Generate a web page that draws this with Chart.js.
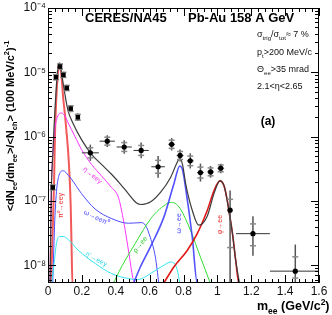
<!DOCTYPE html>
<html>
<head>
<meta charset="utf-8">
<script src="https://cdn.jsdelivr.net/npm/chart.js@4.4.1/dist/chart.umd.min.js"></script>
<style>
  html, body { margin: 0; padding: 0; background: #fff; }
  canvas { display: block; }
</style>
</head>
<body>
<canvas id="chart" width="332" height="315"></canvas>
<script>
// bottom of the log axis; curves that run out of the plot end on it
const FLOOR = 5.3e-9;

// measured e+e- pairs (stat. errors as low/high values, half bin width in mass)
const dataMass = [0.028, 0.047, 0.071, 0.091, 0.111, 0.134, 0.176, 0.25, 0.35, 0.45, 0.55, 0.65, 0.73, 0.78, 0.84, 0.90, 0.96, 1.02, 1.075, 1.21, 1.46];
const dataValue = [1.62e-7, 8.4e-6, 1.23e-5, 9.1e-6, 5.7e-6, 2.73e-6, 2.0e-6, 5.6e-7, 8.5e-7, 6.9e-7, 6.1e-7, 3.4e-7, 7.6e-7, 5.1e-7, 4.2e-7, 2.76e-7, 2.83e-7, 3.23e-7, 7.2e-8, 3.1e-8, 8.1e-9];
const dataLow = [1.45e-7, 7.5e-6, 1.1e-5, 8.2e-6, 5.1e-6, 2.4e-6, 1.75e-6, 4.2e-7, 6.9e-7, 5.4e-7, 4.6e-7, 2.3e-7, 6.1e-7, 4.1e-7, 3.2e-7, 2.0e-7, 2.3e-7, 2.7e-7, 1e-9, 1.4e-8, 1e-9];
const dataHigh = [1.8e-7, 9.4e-6, 1.38e-5, 1.02e-5, 6.4e-6, 3.1e-6, 2.3e-6, 7.5e-7, 1.05e-6, 8.8e-7, 8.1e-7, 5.0e-7, 9.5e-7, 6.3e-7, 5.5e-7, 3.8e-7, 3.5e-7, 3.8e-7, 1.45e-7, 5.8e-8, 2.1e-8];
const dataMassErr = [0, 0, 0, 0, 0, 0, 0, 0.05, 0.045, 0.045, 0.045, 0.04, 0.02, 0.02, 0.02, 0.02, 0.02, 0.02, 0.015, 0.1, 0.15];

// hadronic cocktail
const totalMass = [0.012, 0.02, 0.028, 0.035, 0.041, 0.05, 0.058, 0.066, 0.075, 0.085, 0.095, 0.105, 0.119, 0.148, 0.198, 0.257, 0.316, 0.375, 0.43, 0.474, 0.523, 0.55, 0.575, 0.604, 0.664, 0.723, 0.763, 0.778, 0.795, 0.812, 0.852, 0.89, 0.94, 0.98, 1.015, 1.04, 1.068, 1.09, 1.108, 1.13];
const totalValue = [FLOOR, 1.5e-7, 5e-7, 1.3e-6, 2.6e-6, 6.5e-6, 1.15e-5, 1.4e-5, 1.2e-5, 8e-6, 5.5e-6, 3.8e-6, 2.5e-6, 1.6e-6, 9e-7, 5.3e-7, 3.7e-7, 2.6e-7, 1.8e-7, 1.3e-7, 9.3e-8, 8.8e-8, 9.0e-8, 9.6e-8, 1.36e-7, 2.3e-7, 4.0e-7, 4.6e-7, 3.6e-7, 1.9e-7, 7.1e-8, 4.2e-8, 5.8e-8, 1.3e-7, 2.05e-7, 1.7e-7, 7.1e-8, 3e-8, 1.2e-8, FLOOR];

const pi0Mass = [0.018, 0.025, 0.031, 0.036, 0.041, 0.048, 0.056, 0.062, 0.067, 0.075, 0.082, 0.089, 0.1, 0.108, 0.123, 0.134, 0.14, 0.144, 0.68];
const pi0Value = [FLOOR, 2e-8, 7e-8, 2e-7, 1e-6, 3.5e-6, 8e-6, 1.22e-5, 1.3e-5, 1.1e-5, 7.5e-6, 4.2e-6, 2.2e-6, 1.3e-6, 4e-7, 8.5e-8, 1.5e-8, FLOOR, FLOOR];

const etaMass = [0.012, 0.018, 0.025, 0.033, 0.04, 0.055, 0.079, 0.1, 0.119, 0.158, 0.198, 0.257, 0.316, 0.375, 0.415, 0.44, 0.46, 0.48, 0.5, 0.51];
const etaValue = [FLOOR, 1e-7, 4e-7, 8e-7, 1.3e-6, 2e-6, 2.33e-6, 2.1e-6, 1.63e-6, 1.02e-6, 6.3e-7, 3.7e-7, 2.45e-7, 1.62e-7, 1.15e-7, 6e-8, 3e-8, 1.4e-8, 6.5e-9, FLOOR];

const omegaDalitzMass = [0.028, 0.04, 0.05, 0.065, 0.09, 0.12, 0.138, 0.198, 0.278, 0.377, 0.476, 0.55, 0.575, 0.604, 0.634, 0.654];
const omegaDalitzValue = [FLOOR, 5e-8, 1.4e-7, 2.5e-7, 2.95e-7, 2.5e-7, 2.2e-7, 1.3e-7, 7.5e-8, 5.3e-8, 4.5e-8, 4.6e-8, 4.2e-8, 2.7e-8, 1.34e-8, FLOOR];

const etaPrimeMass = [0.022, 0.035, 0.05, 0.07, 0.09, 0.12, 0.18, 0.28, 0.377, 0.476, 0.53, 0.575, 0.604, 0.684, 0.723, 0.745, 0.763, 0.778];
const etaPrimeValue = [FLOOR, 1e-8, 2.2e-8, 2.8e-8, 2.8e-8, 2.5e-8, 1.7e-8, 1.06e-8, 7.4e-9, 6.2e-9, 6.0e-9, 6.6e-9, 7.4e-9, 1.0e-8, 1.12e-8, 1.08e-8, 8.5e-9, FLOOR];

const rhoMass = [0.387, 0.42, 0.456, 0.516, 0.58, 0.63, 0.684, 0.723, 0.75, 0.782, 0.841, 0.9, 0.958];
const rhoValue = [FLOOR, 8e-9, 1.2e-8, 2.2e-8, 4.2e-8, 6.3e-8, 8.4e-8, 9.5e-8, 9.2e-8, 7.5e-8, 3.5e-8, 1.34e-8, FLOOR];

const omegaMass = [0.506, 0.545, 0.604, 0.684, 0.743, 0.778, 0.795, 0.812, 0.852, 0.881, 1.12];
const omegaValue = [FLOOR, 9.4e-9, 1.92e-8, 5.6e-8, 1.83e-7, 3.5e-7, 3e-7, 1.62e-7, 2.7e-8, FLOOR, FLOOR];

const phiMass = [0.684, 0.743, 0.822, 0.881, 0.94, 0.98, 1.015, 1.04, 1.059, 1.068, 1.09, 1.108, 1.127, 1.6];
const phiValue = [FLOOR, 9.4e-9, 1.7e-8, 3.1e-8, 7.1e-8, 1.44e-7, 2.05e-7, 1.7e-7, 1.0e-7, 7.1e-8, 3e-8, 1.2e-8, FLOOR, FLOOR];

const xTicks = [0, 0.2, 0.4, 0.6, 0.8, 1, 1.2, 1.4, 1.6];

const FONT = '"Liberation Sans", Arial, Helvetica, sans-serif';
const SUP = { '-': '\u207B', '0': '\u2070', '1': '\u00B9', '2': '\u00B2', '3': '\u00B3', '4': '\u2074', '5': '\u2075', '6': '\u2076', '7': '\u2077', '8': '\u2078', '9': '\u2079' };

function pts(xs, ys) {
    return xs.map((x, i) => ({ x: x, y: ys[i] }));
}

function curve(xs, ys, color, width) {
    return {
        data: pts(xs, ys),
        showLine: true,
        borderColor: color,
        borderWidth: width,
        pointRadius: 0,
        cubicInterpolationMode: "monotone",
        fill: false
    };
}

// text with sub/superscripts, parts = [[text, "n"|"sub"|"sup"], ...]
function richWidth(ctx, parts, size, weight) {
    let w = 0;
    parts.forEach(([t, m]) => {
        ctx.font = `${weight} ${m === "n" ? size : size * 0.68}px ${FONT}`;
        w += ctx.measureText(t).width;
    });
    return w;
}
function drawRich(ctx, parts, x, y, size, weight) {
    let cx = x;
    parts.forEach(([t, m]) => {
        ctx.font = `${weight} ${m === "n" ? size : size * 0.68}px ${FONT}`;
        const dy = m === "sub" ? size * 0.28 : m === "sup" ? -size * 0.42 : 0;
        ctx.fillText(t, cx, y + dy);
        cx += ctx.measureText(t).width;
    });
}

function drawErrors(chart) {
    const { ctx, chartArea: a, scales: { x, y } } = chart;
    ctx.save();
    ctx.beginPath();
    ctx.rect(a.left, a.top, a.right - a.left, a.bottom - a.top);
    ctx.clip();
    dataMass.forEach((m, i) => {
        const px = x.getPixelForValue(m);
        const py = y.getPixelForValue(dataValue[i]);
        const yHi = y.getPixelForValue(dataHigh[i]);
        const yLo = Math.min(y.getPixelForValue(dataLow[i]), a.bottom);
        ctx.strokeStyle = "#555";
        ctx.lineWidth = 1.5;
        ctx.beginPath();
        ctx.moveTo(px, yHi);
        ctx.lineTo(px, yLo);
        ctx.stroke();
        if (dataMassErr[i] > 0) {
            ctx.strokeStyle = "#333";
            ctx.lineWidth = 1;
            ctx.beginPath();
            ctx.moveTo(x.getPixelForValue(m - dataMassErr[i]), py);
            ctx.lineTo(x.getPixelForValue(m + dataMassErr[i]), py);
            ctx.stroke();
        }
        // systematic brackets
        ctx.strokeStyle = "#888";
        ctx.lineWidth = 1.5;
        [(py + yHi) / 2 - 1, (py + yLo) / 2 + 1].forEach(cy => {
            if (cy > a.bottom - 2) return;
            ctx.beginPath();
            ctx.moveTo(px - 3, cy);
            ctx.lineTo(px + 3, cy);
            ctx.stroke();
        });
    });
    ctx.restore();
}

function drawFrame(chart) {
    const { ctx, chartArea: a, scales: { x, y } } = chart;
    ctx.save();
    ctx.strokeStyle = "#000";
    ctx.lineWidth = 1;
    ctx.strokeRect(a.left + 0.5, a.top + 0.5, a.right - a.left - 1, a.bottom - a.top - 1);
    const seg = (x1, y1, x2, y2) => { ctx.beginPath(); ctx.moveTo(x1, y1); ctx.lineTo(x2, y2); ctx.stroke(); };
    for (let k = 0; k <= 40; k++) {
        const len = k % 5 === 0 ? 8 : 4;
        const px = Math.round(x.getPixelForValue(k * 0.04)) + 0.5;
        seg(px, a.bottom, px, a.bottom - len);
        seg(px, a.top, px, a.top + len);
    }
    for (let e = -9; e <= -4; e++) {
        for (let k = 1; k <= 9; k++) {
            const v = k * Math.pow(10, e);
            if (v < y.min || v > y.max * 1.0001) continue;
            const len = k === 1 ? 8 : 4;
            const py = Math.round(y.getPixelForValue(v)) + 0.5;
            seg(a.left, py, a.left + len, py);
            seg(a.right, py, a.right - len, py);
        }
    }
    ctx.restore();
}

function drawTexts(chart) {
    const { ctx, scales: { x, y } } = chart;
    ctx.save();
    ctx.fillStyle = "#000";
    ctx.textBaseline = "alphabetic";
    ctx.textAlign = "left";

    ctx.font = `bold 13px ${FONT}`;
    ctx.fillText("CERES/NA45", 85, 22);
    ctx.fillText("Pb-Au 158 A GeV", 188, 22);

    ctx.fillStyle = "#111";
    drawRich(ctx, [["\u03C3", "n"], ["trig", "sub"], ["/\u03C3", "n"], ["tot", "sub"], ["\u2248 7 %", "n"]], 257, 37, 9, "normal");
    drawRich(ctx, [["p", "n"], ["t", "sub"], [">200 MeV/c", "n"]], 257, 55, 9, "normal");
    drawRich(ctx, [["\u0398", "n"], ["ee", "sub"], [">35 mrad", "n"]], 257, 72, 9, "normal");
    drawRich(ctx, [["2.1<\u03B7<2.65", "n"]], 257, 89, 9, "normal");

    ctx.fillStyle = "#000";
    ctx.font = `bold 12px ${FONT}`;
    ctx.textAlign = "center";
    ctx.fillText("(a)", 268, 125);
    ctx.textAlign = "left";

    // axis titles
    drawRich(ctx, [["m", "n"], ["ee", "sub"], [" (GeV/c", "n"], ["2", "sup"], [")", "n"]], 257, 310, 12.5, "bold");

    const yTitle = [["<dN", "n"], ["ee", "sub"], ["/dm", "n"], ["ee", "sub"], [">/<N", "n"], ["ch", "sub"], ["> (100 MeV/c", "n"], ["2", "sup"], [")", "n"], ["-1", "sup"]];
    const tw = richWidth(ctx, yTitle, 11, "bold");
    ctx.save();
    ctx.translate(14, 126);
    ctx.rotate(-Math.PI / 2);
    drawRich(ctx, yTitle, -tw / 2, 0, 11, "bold");
    ctx.restore();

    // curve labels, anchored in data coordinates
    const labels = [
        ["\u03C0\u2070\u2192ee\u03B3", 0.08, 8.5e-8, -90, "#e83030"],
        ["\u03B7\u2192ee\u03B3", 0.262, 2.5e-7, 40, "#ee33ee"],
        ["\u03C9\u2192ee\u03C0\u2070", 0.285, 5.5e-8, 26, "#4848ff"],
        ["\u03B7'\u2192ee\u03B3", 0.285, 1.24e-8, 30, "#30d8e8"],
        ["\u03C1\u2192ee", 0.545, 2.1e-8, -52, "#30cc30"],
        ["\u03C9\u2192ee", 0.776, 4.5e-8, -90, "#4848ff"],
        ["\u03C6\u2192ee", 1.013, 4.3e-8, -90, "#e83030"]
    ];
    ctx.font = `7px ${FONT}`;
    ctx.textAlign = "center";
    ctx.textBaseline = "middle";
    labels.forEach(([t, m, v, ang, col]) => {
        ctx.save();
        ctx.translate(x.getPixelForValue(m), y.getPixelForValue(v));
        ctx.rotate(ang * Math.PI / 180);
        ctx.fillStyle = col;
        ctx.fillText(t, 0, 0);
        ctx.restore();
    });
    ctx.restore();
}

const decorations = {
    id: "decorations",
    beforeDatasetDraw(chart, args) {
        if (args.index === 0) drawErrors(chart);
    },
    afterDraw(chart) {
        drawFrame(chart);
        drawTexts(chart);
    }
};

const ctx = document.getElementById("chart").getContext("2d");
new Chart(ctx, {
    type: "scatter",
    data: {
        datasets: [
            {
                data: pts(dataMass, dataValue),
                pointStyle: dataMass.map((m, i) => i < 7 ? "rect" : "circle"),
                pointRadius: dataMass.map((m, i) => i < 7 ? 3.2 : 2.6),
                backgroundColor: "#000",
                borderColor: "#000",
                borderWidth: 0
            },
            curve(totalMass, totalValue, "#3c3c3c", 1.2),
            curve(phiMass, phiValue, "#e01818", 1.6),
            curve(omegaMass, omegaValue, "rgba(50,50,255,0.85)", 1.6),
            curve(rhoMass, rhoValue, "#33dd33", 1),
            curve(etaPrimeMass, etaPrimeValue, "#33e4f0", 1),
            curve(omegaDalitzMass, omegaDalitzValue, "#4a4aff", 1),
            curve(etaMass, etaValue, "#ff33ff", 1),
            curve(pi0Mass, pi0Value, "rgba(240,60,60,0.85)", 2)
        ]
    },
    options: {
        responsive: false,
        animation: false,
        layout: { padding: { top: 6, right: 13, left: 0, bottom: 0 } },
        plugins: {
            legend: { display: false },
            tooltip: { enabled: false }
        },
        scales: {
            x: {
                type: "linear",
                min: 0,
                max: 1.6,
                afterFit(scale) { scale.height = 32; },
                afterBuildTicks(scale) { scale.ticks = xTicks.map(v => ({ value: v })); },
                grid: { display: false, drawTicks: false },
                border: { display: false },
                ticks: {
                    autoSkip: false,
                    maxRotation: 0,
                    padding: 3,
                    color: "#111",
                    font: { family: FONT, size: 12, lineHeight: 1 },
                    callback: v => String(Number(v.toFixed(1)))
                }
            },
            y: {
                type: "logarithmic",
                min: FLOOR,
                max: 1e-4,
                afterFit(scale) { scale.width = 48; },
                grid: { display: false, drawTicks: false },
                border: { display: false },
                ticks: {
                    autoSkip: false,
                    padding: 2,
                    color: "#111",
                    font: { family: FONT, size: 12, lineHeight: 1 },
                    callback: v => {
                        const e = Math.log10(v);
                        if (Math.abs(e - Math.round(e)) > 1e-6) return "";
                        return "10" + String(Math.round(e)).split("").map(c => SUP[c]).join("");
                    }
                }
            }
        }
    },
    plugins: [decorations]
});
</script>
</body>
</html>
